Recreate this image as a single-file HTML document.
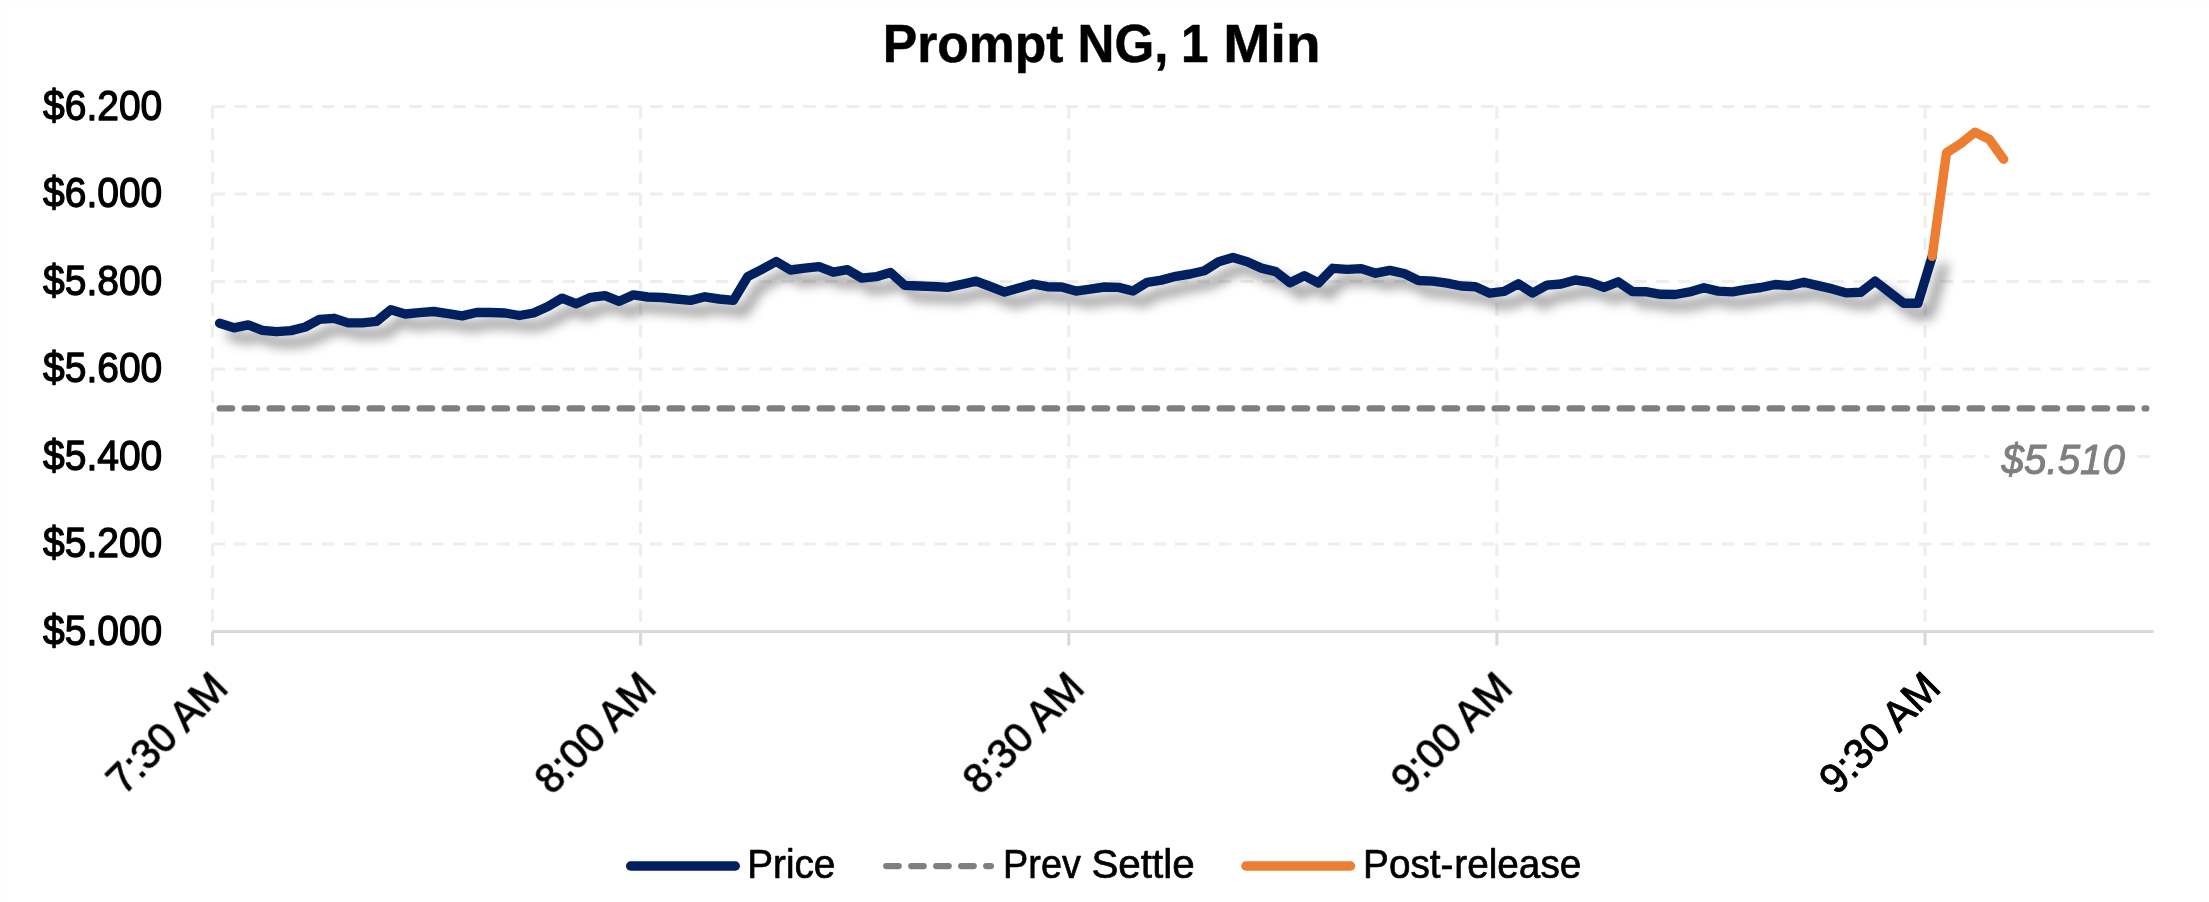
<!DOCTYPE html>
<html lang="en"><head><meta charset="utf-8"><title>Prompt NG, 1 Min</title>
<style>html,body{margin:0;padding:0;background:#fff}body{width:2209px;height:902px;overflow:hidden}svg{display:block;will-change:transform}</style>
</head><body>
<svg width="2209" height="902" viewBox="0 0 2209 902">
<defs><filter id="sh" x="-3%" y="-60%" width="106%" height="260%" color-interpolation-filters="sRGB"><feGaussianBlur in="SourceAlpha" stdDeviation="6.0"/><feOffset dx="10.5" dy="10.5" result="b"/><feFlood flood-color="#000" flood-opacity="0.42"/><feComposite in2="b" operator="in"/><feMerge><feMergeNode/><feMergeNode in="SourceGraphic"/></feMerge></filter><filter id="t" filterUnits="userSpaceOnUse" x="0" y="0" width="2209" height="902"><feOffset dx="0" dy="0"/></filter></defs>
<rect width="2209" height="902" fill="#fff"/>
<path d="M0 0.5H2209M0.5 0V902" stroke="#fdfdfd" stroke-width="1" fill="none"/>
<g stroke="#eeeeee" stroke-width="3.125" stroke-dasharray="12.5 9.375" fill="none">
<path d="M212.5 106.5H2153.4"/>
<path d="M212.5 194.0H2153.4"/>
<path d="M212.5 281.5H2153.4"/>
<path d="M212.5 369.0H2153.4"/>
<path d="M212.5 456.5H2153.4"/>
<path d="M212.5 544.0H2153.4"/>
<path d="M212.5 106.2V631.5"/>
<path d="M640.6 106.2V631.5"/>
<path d="M1068.8 106.2V631.5"/>
<path d="M1496.9 106.2V631.5"/>
<path d="M1925.1 106.2V631.5"/>
</g>
<g stroke="#d9d9d9" stroke-width="3.125" fill="none">
<path d="M212.5 631.5H2153.4"/>
<path d="M212.5 631.5V645.5"/>
<path d="M640.6 631.5V645.5"/>
<path d="M1068.8 631.5V645.5"/>
<path d="M1496.9 631.5V645.5"/>
<path d="M1925.1 631.5V645.5"/>
</g>
<polyline filter="url(#sh)" points="219.6,323.2 233.9,327.8 248.2,324.9 262.4,330.3 276.7,331.7 291.0,330.6 305.3,327.0 319.5,319.4 333.8,318.3 348.1,322.9 362.3,322.9 376.6,321.4 390.9,309.7 405.2,314.0 419.4,312.7 433.7,311.5 448.0,313.6 462.2,315.9 476.5,312.5 490.8,312.5 505.1,313.0 519.3,315.5 533.6,313.0 547.9,306.5 562.1,298.1 576.4,303.8 590.7,297.3 605.0,295.6 619.2,301.3 633.5,294.9 647.8,297.0 662.0,297.5 676.3,299.0 690.6,300.4 704.9,296.8 719.1,299.0 733.4,300.4 747.7,276.7 761.9,269.3 776.2,261.5 790.5,270.0 804.8,268.2 819.0,266.6 833.3,272.2 847.6,269.7 861.8,278.1 876.1,276.7 890.4,272.4 904.7,285.4 918.9,286.0 933.2,286.5 947.5,287.4 961.7,284.3 976.0,281.1 990.3,286.5 1004.6,292.1 1018.8,288.1 1033.1,284.0 1047.4,286.7 1061.6,287.0 1075.9,291.1 1090.2,289.2 1104.5,287.0 1118.7,287.4 1133.0,291.0 1147.3,282.3 1161.5,280.1 1175.8,276.3 1190.1,274.0 1204.4,270.8 1218.6,261.8 1232.9,257.5 1247.2,261.8 1261.4,268.1 1275.7,271.6 1290.0,282.7 1304.3,275.7 1318.5,283.0 1332.8,268.3 1347.1,269.4 1361.3,268.6 1375.6,273.2 1389.9,270.4 1404.2,273.5 1418.4,280.5 1432.7,281.1 1447.0,283.2 1461.2,286.0 1475.5,286.7 1489.8,293.2 1504.1,291.4 1518.3,283.8 1532.6,293.0 1546.9,285.2 1561.1,284.0 1575.4,280.0 1589.7,282.2 1604.0,287.3 1618.2,281.8 1632.5,291.6 1646.8,291.8 1661.0,294.3 1675.3,294.5 1689.6,291.9 1703.9,287.8 1718.1,291.1 1732.4,291.9 1746.7,289.4 1760.9,287.5 1775.2,284.5 1789.5,285.6 1803.8,282.2 1818.0,285.6 1832.3,288.9 1846.6,292.9 1860.8,292.2 1875.1,281.1 1889.4,292.2 1903.7,303.2 1917.9,303.3 1932.2,256.3" fill="none" stroke="#002060" stroke-width="9.375" stroke-linejoin="round" stroke-linecap="round"/>
<path d="M219.6 408.4H2146.3" stroke="#7f7f7f" stroke-width="6.25" stroke-dasharray="12.5 12.5" stroke-linecap="round" fill="none"/>
<polyline points="1932.2,256.3 1946.5,152.8 1960.7,143.6 1975.0,132.2 1989.3,139.3 2003.6,159.2" fill="none" stroke="#ed7d31" stroke-width="9.375" stroke-linejoin="round" stroke-linecap="round"/>
<rect x="1989" y="432" width="147" height="58" fill="#fff"/>
<g filter="url(#t)" font-family="Liberation Sans, Arial, sans-serif" fill="#000" stroke="#000" stroke-width="0.5" stroke-linejoin="round">
<text y="61.9" font-size="54.25" font-weight="bold" stroke-width="0.5"><tspan x="882.8" textLength="180.7" lengthAdjust="spacingAndGlyphs">Prompt</tspan> <tspan x="1077.6" textLength="90.9" lengthAdjust="spacingAndGlyphs">NG,</tspan> <tspan x="1180.9" textLength="27.5" lengthAdjust="spacingAndGlyphs">1</tspan> <tspan x="1223.2" textLength="97.5" lengthAdjust="spacingAndGlyphs">Min</tspan></text>
<text y="119.6" font-size="42.7" stroke-width="1.3"><tspan x="43.1" textLength="119.2" lengthAdjust="spacingAndGlyphs">$6.200</tspan></text>
<text y="207.1" font-size="42.7" stroke-width="1.3"><tspan x="43.1" textLength="119.2" lengthAdjust="spacingAndGlyphs">$6.000</tspan></text>
<text y="294.6" font-size="42.7" stroke-width="1.3"><tspan x="43.1" textLength="119.2" lengthAdjust="spacingAndGlyphs">$5.800</tspan></text>
<text y="382.1" font-size="42.7" stroke-width="1.3"><tspan x="43.1" textLength="119.2" lengthAdjust="spacingAndGlyphs">$5.600</tspan></text>
<text y="469.6" font-size="42.7" stroke-width="1.3"><tspan x="43.1" textLength="119.2" lengthAdjust="spacingAndGlyphs">$5.400</tspan></text>
<text y="557.1" font-size="42.7" stroke-width="1.3"><tspan x="43.1" textLength="119.2" lengthAdjust="spacingAndGlyphs">$5.200</tspan></text>
<text y="644.6" font-size="42.7" stroke-width="1.3"><tspan x="43.1" textLength="119.2" lengthAdjust="spacingAndGlyphs">$5.000</tspan></text>
<text transform="translate(123.8 796.1) rotate(-45)" font-size="42.0" stroke-width="1.0" textLength="150.1" lengthAdjust="spacingAndGlyphs">7:30 AM</text>
<text transform="translate(552.0 796.1) rotate(-45)" font-size="42.0" stroke-width="1.0" textLength="150.1" lengthAdjust="spacingAndGlyphs">8:00 AM</text>
<text transform="translate(980.1 796.1) rotate(-45)" font-size="42.0" stroke-width="1.0" textLength="150.1" lengthAdjust="spacingAndGlyphs">8:30 AM</text>
<text transform="translate(1408.3 796.1) rotate(-45)" font-size="42.0" stroke-width="1.0" textLength="150.1" lengthAdjust="spacingAndGlyphs">9:00 AM</text>
<text transform="translate(1836.4 796.1) rotate(-45)" font-size="42.0" stroke-width="1.0" textLength="150.1" lengthAdjust="spacingAndGlyphs">9:30 AM</text>
<text y="878.0" font-size="40.7" stroke-width="0.7"><tspan x="747.2" textLength="88.2" lengthAdjust="spacingAndGlyphs">Price</tspan></text>
<text y="878.0" font-size="40.7" stroke-width="0.7"><tspan x="1003.1" textLength="77.7" lengthAdjust="spacingAndGlyphs">Prev</tspan> <tspan x="1091.4" textLength="103.2" lengthAdjust="spacingAndGlyphs">Settle</tspan></text>
<text y="878.0" font-size="40.7" stroke-width="0.7"><tspan x="1363.1" textLength="90.3" lengthAdjust="spacingAndGlyphs">Post-</tspan><tspan x="1454.3" textLength="127.0" lengthAdjust="spacingAndGlyphs">release</tspan></text>
<text y="474.4" font-size="41.7" font-style="italic" stroke-width="1.0" fill="#7f7f7f" stroke="#7f7f7f"><tspan x="2001.6" textLength="123.3" lengthAdjust="spacingAndGlyphs">$5.510</tspan></text>
</g>
<g fill="none" stroke-linecap="round">
<path d="M630.6 866H735.3" stroke="#002060" stroke-width="9.375"/>
<path d="M886.2 866H990.9" stroke="#7f7f7f" stroke-width="6.25" stroke-dasharray="12.5 12.5"/>
<path d="M1245.9 866H1350.6" stroke="#ed7d31" stroke-width="9.375"/>
</g>
</svg></body></html>
